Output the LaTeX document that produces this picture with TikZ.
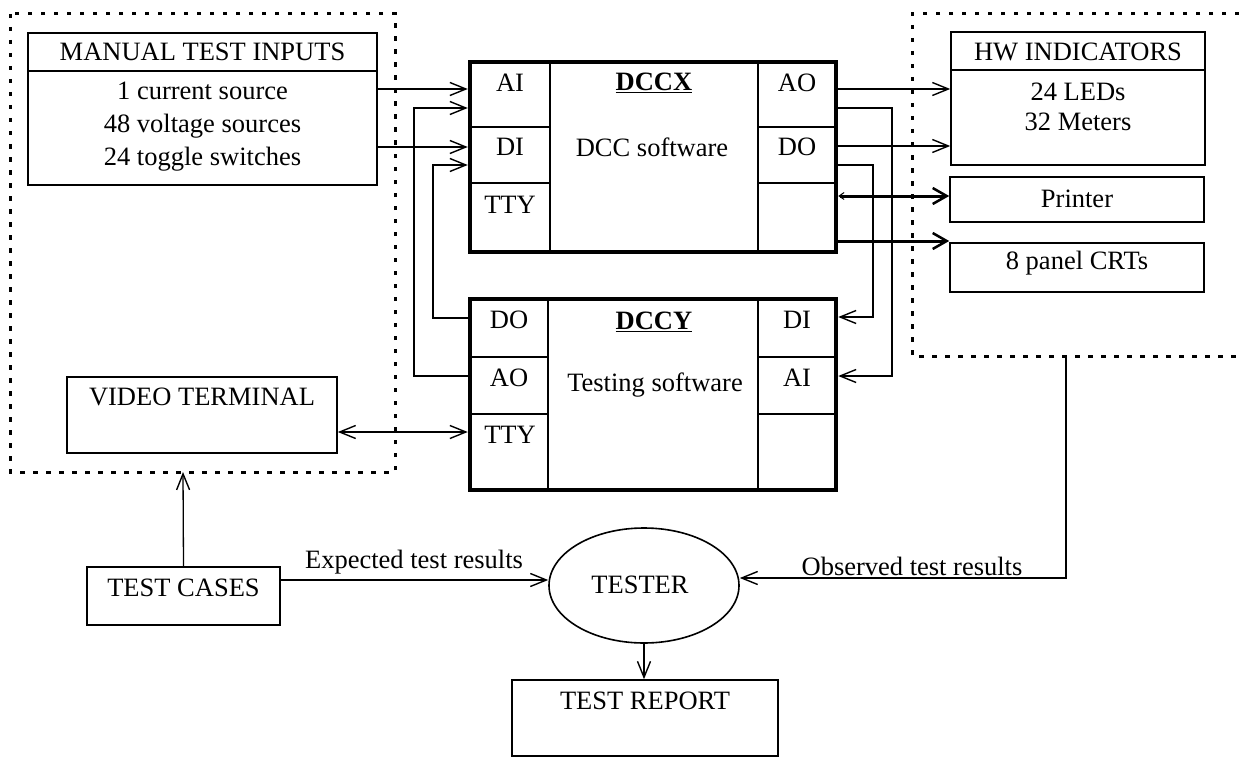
\documentclass[tikz,border=0pt]{standalone}
\usepackage{fontspec}
\setmainfont{Liberation Serif}
\usetikzlibrary{arrows.meta,shapes.geometric}

\begin{document}
\begin{tikzpicture}[x=1pt,y=-1pt,
  every node/.style={font=\fontsize{26.5}{33}\selectfont, inner sep=0pt},
  box/.style={draw, line width=1.6pt, rectangle},
  unit/.style={draw, line width=4.5pt, rectangle},
  cell/.style={line width=1.5pt},
  link/.style={line width=1.3pt, -{Straight Barb[length=16pt,width=13pt,line width=1.4pt]}},
  linkboth/.style={line width=1.3pt, {Straight Barb[length=16pt,width=13pt,line width=1.4pt]}-{Straight Barb[length=16pt,width=13pt,line width=1.4pt]}},
  bus/.style={line width=3pt, -{Straight Barb[length=14pt,width=16pt,line width=2.5pt]}},
  busboth/.style={line width=3pt, {Straight Barb[length=5pt,width=7pt,line width=1pt]}-{Straight Barb[length=14pt,width=16pt,line width=2.5pt]}},
  frame/.style={line width=3pt, dash pattern=on 4.5pt off 8.5pt},
]
\path[use as bounding box] (0,0) rectangle (1239,757);

% dotted enclosures
\draw[frame] (10,14) rectangle (395,472);
\draw[frame] (1239,14) -- (912,14) -- (912,356) -- (1239,356);
\coordinate (leftframe) at (183,472);
\coordinate (rightframe) at (1066,356);

% manual test inputs
\node[box, minimum width=349pt, minimum height=152pt] (man) at (202.5,109) {};
\draw[line width=1.6pt] (man.west |- 0,71) -- (man.east |- 0,71);
\node (manT) at (202.5,52) {MANUAL TEST INPUTS};
\node[align=center] (manL) at (202.5,127) {1 current source\\48 voltage sources\\24 toggle switches};

% video terminal
\node[box, minimum width=270pt, minimum height=76pt] (vt) at (202,415) {};
\node (vtT) at (202,397) {VIDEO TERMINAL};

% DCCX
\node[unit, minimum width=366pt, minimum height=190pt] (dccx) at (653,157) {};
\draw[cell] (550,62) -- (550,252);
\draw[cell] (758,62) -- (758,252);
\draw[cell] (470,127) -- (550,127) (470,183) -- (550,183);
\draw[cell] (758,127) -- (836,127) (758,183) -- (836,183);
\node (xAI) at (510,83) {AI};
\node (xDI) at (510,147) {DI};
\node (xTTY) at (510,205) {TTY};
\node (xAO) at (797,83) {AO};
\node (xDO) at (797,147) {DO};
\node (xT) at (654,83) {\textbf{\underline{DCCX}}};
\node (xS) at (652,147) {DCC software};

% DCCY
\node[unit, minimum width=366pt, minimum height=191pt] (dccy) at (653,394.5) {};
\draw[cell] (548,299) -- (548,490);
\draw[cell] (758,299) -- (758,490);
\draw[cell] (470,357) -- (548,357) (470,414) -- (548,414);
\draw[cell] (758,357) -- (836,357) (758,414) -- (836,414);
\node (yDO) at (509,320) {DO};
\node (yAO) at (509,378) {AO};
\node (yTTY) at (510,435) {TTY};
\node (yDI) at (797,320) {DI};
\node (yAI) at (797,378) {AI};
\node (yT) at (654,322) {\textbf{\underline{DCCY}}};
\node (yS) at (655,385) {Testing software};

% hardware indicators
\node[box, minimum width=254pt, minimum height=133pt] (hw) at (1078,98.5) {};
\draw[line width=1.6pt] (hw.west |- 0,70) -- (hw.east |- 0,70);
\node (hwT) at (1078,52) {HW INDICATORS};
\node[align=center, font=\fontsize{26.5}{30}\selectfont] (hwL) at (1078,107) {24 LEDs\\32 Meters};
\node[box, minimum width=254pt, minimum height=45pt] (pr) at (1077,199.5) {};
\node (prT) at (1077,199) {Printer};
\node[box, minimum width=254pt, minimum height=49pt] (crt) at (1077,267.5) {};
\node (crtT) at (1077,263) {8 panel CRTs};

% test cases, tester, report
\node[box, minimum width=193pt, minimum height=58pt] (tc) at (183.5,596) {};
\node (tcT) at (183.5,588) {TEST CASES};
\node[draw, ellipse, line width=1.6pt, minimum width=190pt, minimum height=115pt] (tester) at (644,585.5) {};
\node (testerT) at (640,585) {TESTER};
\node[box, minimum width=266pt, minimum height=76pt] (rep) at (645,718) {};
\node (repT) at (645,701) {TEST REPORT};

% signal connections
\draw[link] (man.east |- 0,89) -- (dccx.west |- 0,89);
\draw[link] (man.east |- 0,147) -- (dccx.west |- 0,147);
\draw[link] (dccy.west |- 0,318) -- (433,318) -- (433,165) -- (dccx.west |- 0,165);
\draw[link] (dccy.west |- 0,376) -- (414,376) -- (414,108) -- (dccx.west |- 0,108);
\draw[link] (dccx.east |- 0,89) -- (hw.west |- 0,89);
\draw[link] (dccx.east |- 0,146) -- (hw.west |- 0,146);
\draw[link] (dccx.east |- 0,108) -- (892,108) -- (892,376) -- (dccy.east |- 0,376);
\draw[link] (dccx.east |- 0,165) -- (873,165) -- (873,317) -- (dccy.east |- 0,317);
\draw[busboth] (dccx.east |- 0,196) -- (pr.west |- 0,196);
\draw[bus] (dccx.east |- 0,241) -- (crt.west |- 0,241);
\draw[linkboth] (vt.east |- 0,432) -- (dccy.west |- 0,432);

% test flow
\draw[link] (tc.north) -- (leftframe);
\draw[link] (tc.east |- 0,580) -- (tester.west |- 0,580);
\node (exp) at (414,562) {Expected test results};
\draw[link] (rightframe) -- (1066,578) -- (tester.east |- 0,578);
\node (obs) at (912,566) {Observed test results};
\draw[link] (tester.south) -- (tester.south |- rep.north);
\end{tikzpicture}
\end{document}
